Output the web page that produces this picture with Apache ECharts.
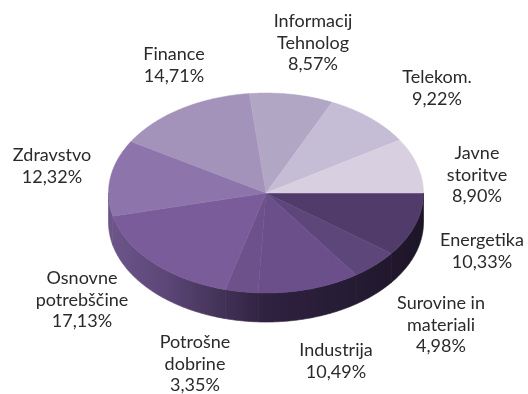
<!DOCTYPE html>
<html>
<head>
<meta charset="utf-8">
<style>html,body{margin:0;padding:0;background:#fff}#c{width:528px;height:394px}</style>
<script src="https://cdn.jsdelivr.net/npm/echarts@6/dist/echarts.min.js"></script>
</head>
<body>
<div id="c"></div>
<script>
const categories = ['Energetika','Surovine in\nmateriali','Industrija','Potrošne\ndobrine','Osnovne\npotrebščine','Zdravstvo','Finance','Informacij\nTehnolog','Telekom.','Javne\nstoritve'];
const shares = [10.33,4.98,10.49,3.35,17.13,12.32,14.71,8.57,9.22,8.90];
const percentLabels = ['10,33%','4,98%','10,49%','3,35%','17,13%','12,32%','14,71%','8,57%','9,22%','8,90%'];
const topColors = ['#503b6b','#5d4679','#6b4f8b','#6d518a','#7b5c9a','#8d75ab','#a392b9','#b2a6c5','#c5bcd6','#d8d0e0'];
const labelCenters = [[482,251],[441,325],[336,361],[195,364],[82,300],[52,166],[174,65],[313,43],[437,88],[477,175]];
const FONT = 'Lato';
const FONT_SIZE = 18;
const DEPTH = 0.29;

const total = shares.reduce((a,b)=>a+b,0);
let run = 0;
const rows = shares.map((v,i)=>{ const s = run; run += v; return [i, s/total*360, run/total*360]; });
const rad = d => d*Math.PI/180;

function rimPoints(api, a0, a1, drop){
  const pts = [];
  const n = Math.max(2, Math.ceil((a1-a0)*2));
  for(let k=0;k<=n;k++){
    const t = rad(a0+(a1-a0)*k/n);
    pts.push(api.coord([Math.cos(t), -Math.sin(t)-drop]));
  }
  return pts;
}
function toPath(pts){
  return pts.map((p,k)=>(k?'L':'M')+p[0].toFixed(2)+' '+p[1].toFixed(2)).join(' ')+' Z';
}
function renderTop(params, api){
  const i = api.value(0);
  const pts = [api.coord([0,0])].concat(rimPoints(api, api.value(1), api.value(2), 0));
  return {type:'path', shape:{pathData:toPath(pts)}, style:{fill:topColors[i], stroke:topColors[i], lineWidth:0.5}};
}
function renderSide(params, api){
  const a0 = Math.max(api.value(1),0), a1 = Math.min(api.value(2),180);
  if(a1<=a0) return {type:'group',children:[]};
  const pts = rimPoints(api,a0,a1,0).concat(rimPoints(api,a0,a1,DEPTH).reverse());
  const xl = api.coord([-1,0])[0], xr = api.coord([1,0])[0];
  const grad = new echarts.graphic.LinearGradient(xl,0,xr,0,[
    {offset:0,color:'#6d5589'},{offset:0.18,color:'#5c4778'},{offset:0.35,color:'#443358'},
    {offset:0.5,color:'#2f2140'},{offset:0.75,color:'#261c35'},{offset:1,color:'#1d1527'}],true);
  return {type:'path', shape:{pathData:toPath(pts)}, style:{fill:grad, stroke:grad, lineWidth:0.7}};
}
function renderLabel(params, api){
  const i = api.value(0);
  return {type:'text', style:{
    x:labelCenters[i][0], y:labelCenters[i][1],
    text:categories[i]+'\n'+percentLabels[i],
    fill:'#2a2a2a', font:FONT_SIZE+'px '+FONT, lineHeight:21.5,
    align:'center', verticalAlign:'middle'}};
}
const chart = echarts.init(document.getElementById('c'),null,{renderer:'canvas'});
chart.setOption({
  animation:false,
  backgroundColor:'#fff',
  grid:{left:108.5,top:93,width:315,height:200,containLabel:false},
  xAxis:{type:'value',min:-1,max:1,show:false},
  yAxis:{type:'value',min:-1,max:1,show:false},
  series:[
    {type:'custom',clip:false,renderItem:renderSide,data:rows,z:1,silent:true},
    {type:'custom',clip:false,renderItem:renderTop,data:rows,z:2,silent:true},
    {type:'custom',clip:false,renderItem:renderLabel,data:rows,z:3,silent:true}
  ]
});
</script>
</body>
</html>
